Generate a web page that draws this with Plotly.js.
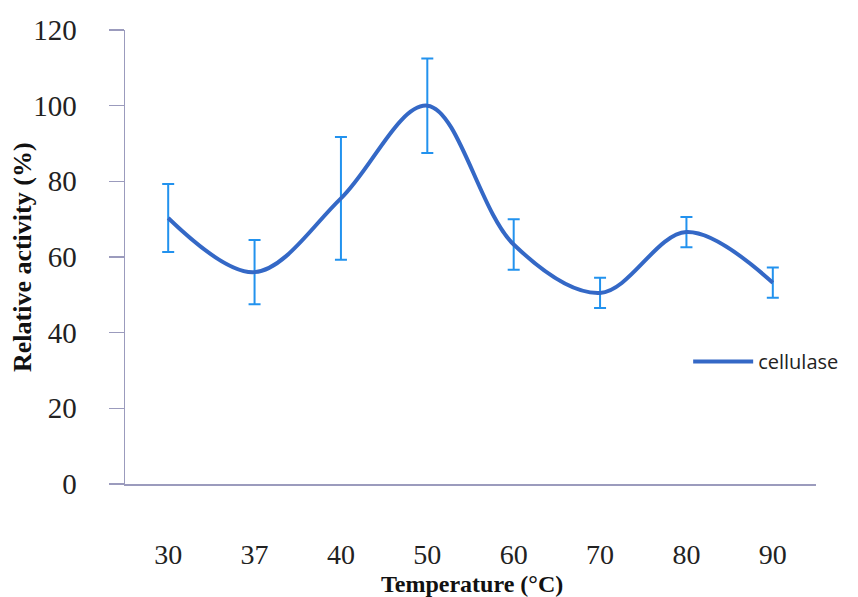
<!DOCTYPE html>
<html>
<head>
<meta charset="utf-8">
<script src="https://cdn.plot.ly/plotly-3.0.1.min.js"></script>
<style>html,body{margin:0;padding:0;background:#fff;}#chart{width:858px;height:597px;}</style>
</head>
<body>
<div id="chart"></div>
<script>
const temperatures = ["30", "37", "40", "50", "60", "70", "80", "90"];
const activity = [70.3, 56.0, 75.5, 100, 63.3, 50.5, 66.6, 53.2];
const activityError = [9.0, 8.5, 16.2, 12.5, 6.7, 4.0, 4.0, 4.0];
const yTicks = [0, 20, 40, 60, 80, 100, 120];
const seriesName = "cellulase";
const xTitle = "<b>Temperature (°C)</b>";
const yTitle = "<b>Relative activity (%)</b>";

const trace = {
  x: temperatures,
  y: activity,
  type: "scatter",
  mode: "lines",
  name: seriesName,
  line: {shape: "spline", smoothing: 1, color: "#3468C6", width: 4},
  error_y: {type: "data", array: activityError, visible: true, color: "#2292EE", thickness: 2, width: 6}
};

const axisColor = "#9b9bbd";
const serif = "'Liberation Serif', 'Times New Roman', serif";
const layout = {
  width: 858, height: 597,
  margin: {l: 125, r: 42, t: 30, b: 113},
  paper_bgcolor: "#ffffff",
  plot_bgcolor: "#ffffff",
  showlegend: true,
  legend: {x: 0.815, y: 0.27, xanchor: "left", yanchor: "middle", bgcolor: "rgba(0,0,0,0)",
           font: {family: "'Open Sans', sans-serif", size: 20, color: "#222"}, itemwidth: 60},
  xaxis: {
    type: "category",
    range: [-0.5, 7.5],
    showline: true, linecolor: axisColor, linewidth: 1.5,
    ticks: "", showgrid: false, zeroline: false,
    ticklabelstandoff: 45,
    tickfont: {family: serif, size: 28, color: "#222"},
    automargin: false
  },
  yaxis: {
    range: [0, 120],
    tickvals: yTicks,
    showline: true, linecolor: axisColor, linewidth: 1.5,
    ticks: "outside", ticklen: 15, tickcolor: axisColor, tickwidth: 1.5,
    ticklabelstandoff: 26,
    showgrid: false, zeroline: false,
    tickfont: {family: serif, size: 29, color: "#222"},
    automargin: false
  },
  annotations: [
    {text: xTitle, xref: "paper", yref: "paper", x: 0.502, y: -0.221, xanchor: "center", yanchor: "middle",
     showarrow: false, font: {family: serif, size: 24, color: "#111"}},
    {text: yTitle, xref: "paper", yref: "paper", x: -0.149, y: 0.5, xanchor: "center", yanchor: "middle",
     textangle: -90, showarrow: false, font: {family: serif, size: 26, color: "#111"}}
  ]
};

Plotly.newPlot("chart", [trace], layout, {staticPlot: true, displayModeBar: false});
</script>
</body>
</html>
